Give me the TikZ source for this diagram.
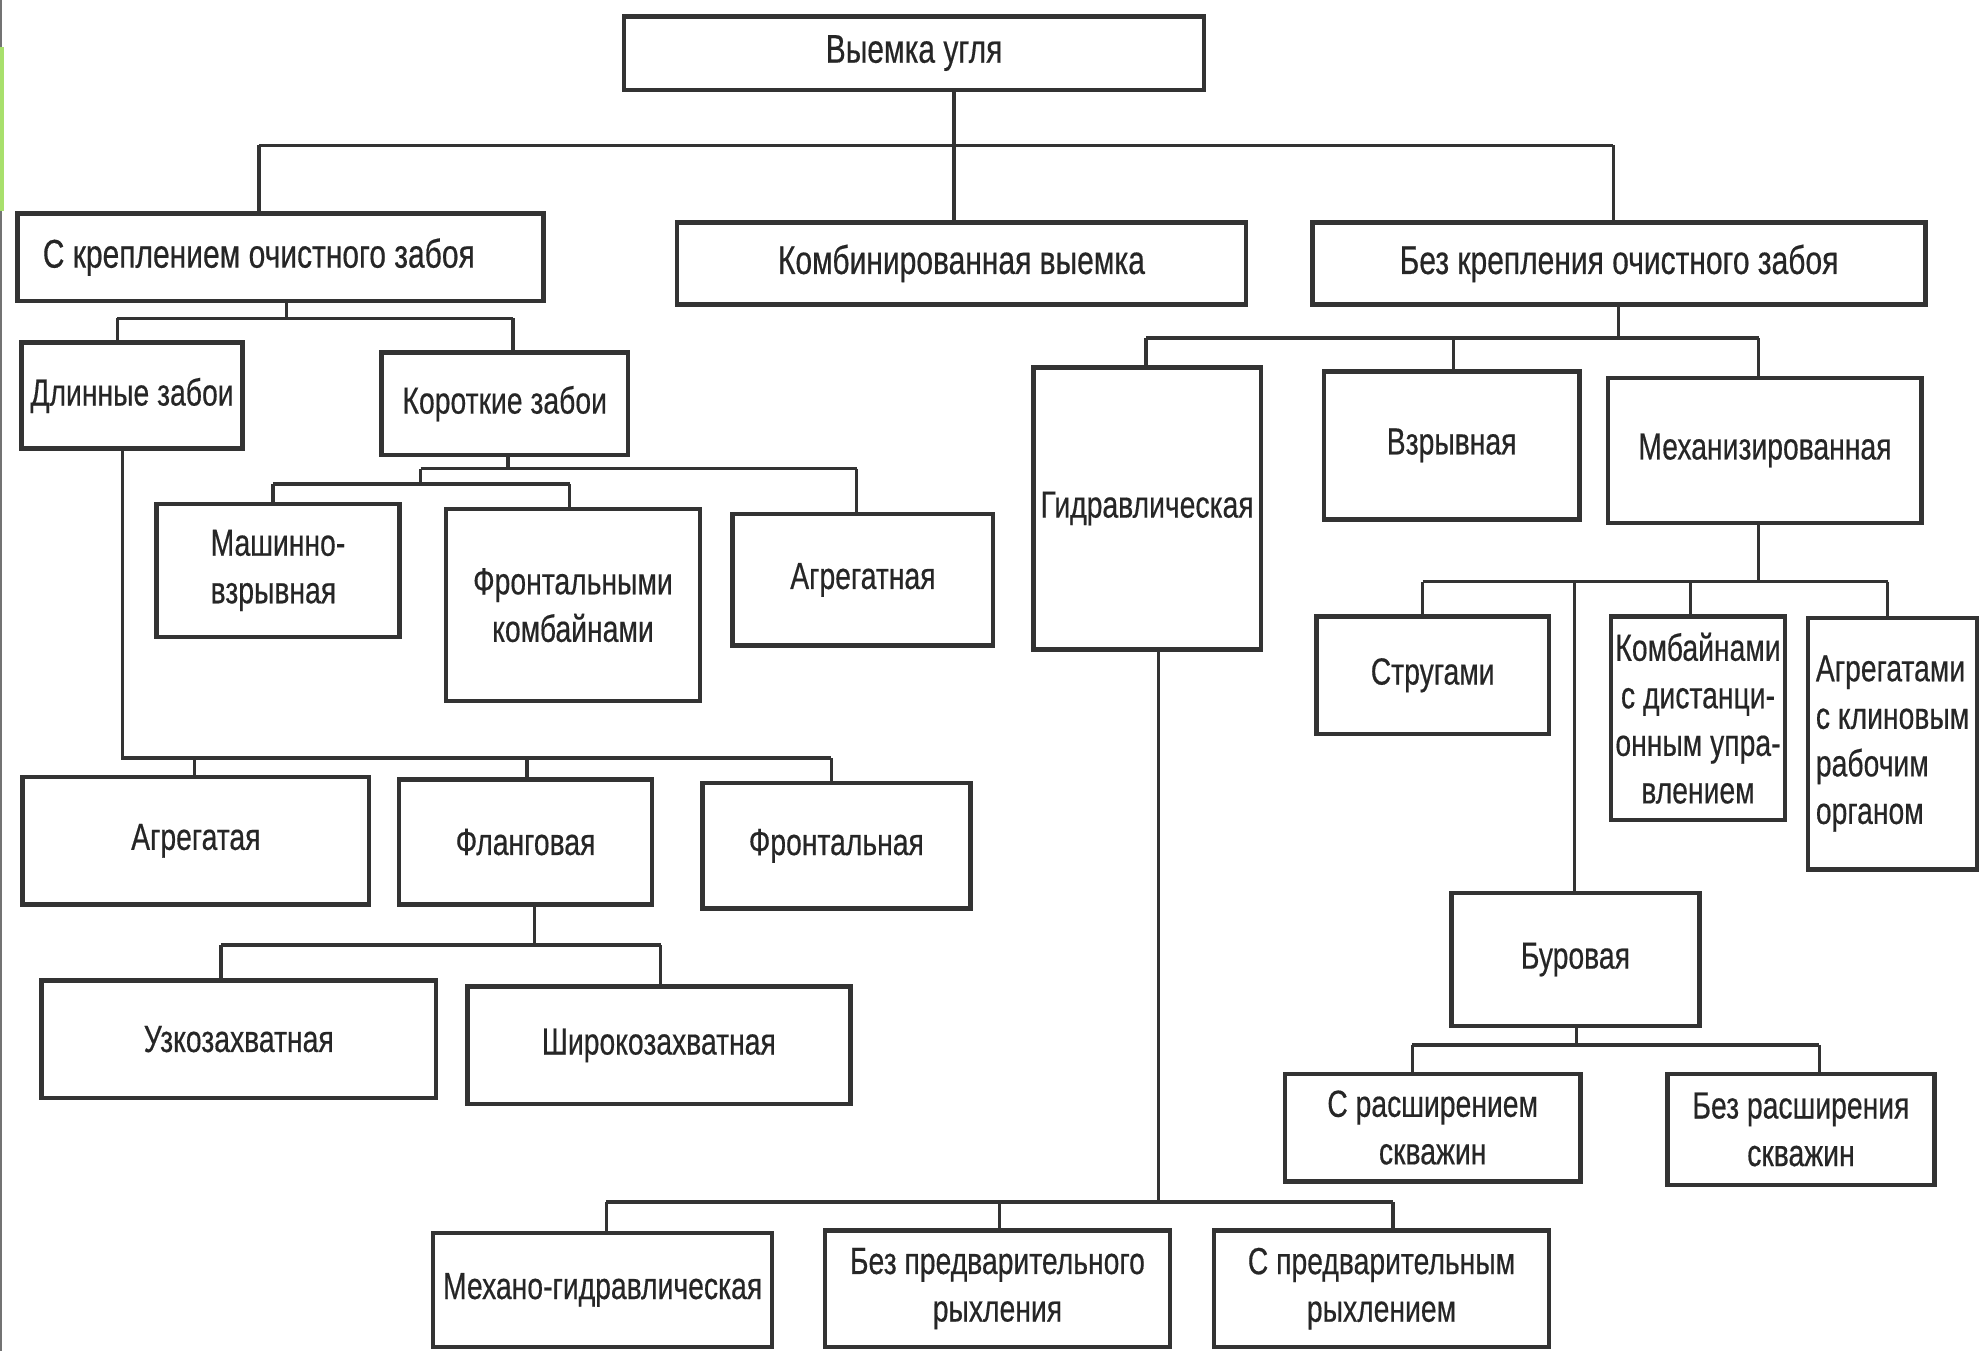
\documentclass[tikz,border=0pt]{standalone}
\usepackage{fontspec}
\setmainfont{Liberation Sans}[FakeStretch=0.75,FakeBold=0.4]
\definecolor{ln}{HTML}{333333}
\definecolor{tx}{HTML}{262626}
\definecolor{stripe}{RGB}{168,224,108}
\begin{document}
\begin{tikzpicture}[x=0.01cm,y=-0.01cm,
  box/.style={draw=ln,line width=1pt,fill=white,text=tx,inner sep=1pt,
    font=\fontsize{8.5}{10.7}\selectfont,align=center},
  big/.style={font=\fontsize{9}{11}\selectfont},
  con/.style={draw=ln,line width=0.75pt}]
\useasboundingbox (0,0) rectangle (1568,1069);
% left edge artefacts of the source slide
\fill[black!55] (0,0) rectangle (1.5,1069);
\fill[stripe] (0,37) rectangle (3,167);

% ---------- nodes ----------
\node[box,big,minimum width=4.59cm,minimum height=0.58cm] (top) at (723.5,42) {Выемка угля};
\node[box,big,minimum width=4.16cm,minimum height=0.69cm,text width=3.76cm,inner xsep=0.2cm,align=flush left] (krep) at (222,203.5) {С креплением очистного забоя};
\node[box,big,minimum width=4.50cm,minimum height=0.65cm] (komb) at (761,208.5) {Комбинированная выемка};
\node[box,big,minimum width=4.85cm,minimum height=0.65cm] (bez) at (1281.5,208.5) {Без крепления очистного забоя};

\node[box,minimum width=1.75cm,minimum height=0.84cm] (dlin) at (104.5,313) {Длинные забои};
\node[box,minimum width=1.95cm,minimum height=0.81cm] (korot) at (399.5,319.5) {Короткие забои};
\node[box,minimum width=1.92cm,minimum height=1.05cm,align=flush left] (mashin) at (220,451.5) {Машинно-\\взрывная};
\node[box,minimum width=2.01cm,minimum height=1.52cm] (front) at (453.5,479) {Фронтальными\\комбайнами};
\node[box,minimum width=2.06cm,minimum height=1.04cm] (agr1) at (683,459) {Агрегатная};

\node[box,minimum width=2.74cm,minimum height=1.01cm] (agrL) at (155,665.5) {Агрегатая};
\node[box,minimum width=2.00cm,minimum height=0.99cm] (flang) at (416,666.5) {Фланговая};
\node[box,minimum width=2.12cm,minimum height=0.99cm] (frontal) at (662,669.5) {Фронтальная};
\node[box,minimum width=3.12cm,minimum height=0.93cm] (uzko) at (189,822.5) {Узкозахватная};
\node[box,minimum width=3.03cm,minimum height=0.93cm] (shiro) at (521.5,827.5) {Широкозахватная};

\node[box,minimum width=1.80cm,minimum height=2.23cm] (gidr) at (908,402.5) {Гидравлическая};
\node[box,minimum width=2.02cm,minimum height=1.17cm] (vzryv) at (1149,352.5) {Взрывная};
\node[box,minimum width=2.48cm,minimum height=1.15cm] (mech) at (1397,356.5) {Механизированная};

\node[box,minimum width=1.84cm,minimum height=0.93cm] (strug) at (1134,534.5) {Стругами};
\node[box,minimum width=1.38cm,minimum height=1.61cm] (kombD) at (1344,568.5) {Комбайнами\\с дистанци-\\онным упра-\\влением};
\node[box,minimum width=1.34cm,minimum height=1.99cm,align=flush left] (agrK) at (1498,588.5) {Агрегатами\\с клиновым\\рабочим\\органом};
\node[box,minimum width=1.96cm,minimum height=1.05cm] (bur) at (1247,759.5) {Буровая};
\node[box,minimum width=2.34cm,minimum height=0.85cm] (srasch) at (1134,892.5) {С расширением\\скважин};
\node[box,minimum width=2.11cm,minimum height=0.88cm] (bezrasch) at (1425.5,894) {Без расширения\\скважин};

\node[box,minimum width=2.68cm,minimum height=0.90cm] (mechg) at (477,1021) {Механо-гидравлическая};
\node[box,minimum width=2.73cm,minimum height=0.92cm] (bezpred) at (789.5,1020) {Без предварительного\\рыхления};
\node[box,minimum width=2.65cm,minimum height=0.92cm] (spred) at (1093.5,1020) {С предварительным\\рыхлением};

% ---------- connectors ----------
% Выемка угля
\coordinate (a1) at (205,115); \coordinate (a2) at (755,115); \coordinate (a3) at (1277,115);
\draw[con] (a1) -- (a3);
\draw[con] (a2 |- top.south) -- (a2 |- komb.north);
\draw[con] (a1) -- (a1 |- krep.north);
\draw[con] (a3) -- (a3 |- bez.north);

% С креплением очистного забоя
\coordinate (b0) at (227,252); \coordinate (b1) at (93,252); \coordinate (b2) at (406,252);
\draw[con] (b0 |- krep.south) -- (b0);
\draw[con] (b1) -- (b2);
\draw[con] (b1) -- (b1 |- dlin.north);
\draw[con] (b2) -- (b2 |- korot.north);

% Короткие забои
\coordinate (c0) at (402,371); \coordinate (c1) at (333,371); \coordinate (c2) at (678,371);
\coordinate (c3) at (333,383); \coordinate (c4) at (216,383); \coordinate (c5) at (451,383);
\draw[con] (c0 |- korot.south) -- (c0);
\draw[con] (c1) -- (c2);
\draw[con] (c2) -- (c2 |- agr1.north);
\draw[con] (c1) -- (c3);
\draw[con] (c4) -- (c5);
\draw[con] (c4) -- (c4 |- mashin.north);
\draw[con] (c5) -- (c5 |- front.north);

% Длинные забои
\coordinate (d0) at (97,600); \coordinate (d1) at (154,600); \coordinate (d2) at (417,600); \coordinate (d3) at (658,600);
\draw[con] (d0 |- dlin.south) -- (d0) -- (d3);
\draw[con] (d1) -- (d1 |- agrL.north);
\draw[con] (d2) -- (d2 |- flang.north);
\draw[con] (d3) -- (d3 |- frontal.north);

% Фланговая
\coordinate (e0) at (423,748); \coordinate (e1) at (175,748); \coordinate (e2) at (523,748);
\draw[con] (e0 |- flang.south) -- (e0);
\draw[con] (e1) -- (e2);
\draw[con] (e1) -- (e1 |- uzko.north);
\draw[con] (e2) -- (e2 |- shiro.north);

% Без крепления очистного забоя
\coordinate (f0) at (1281,267.5); \coordinate (f1) at (907,267.5); \coordinate (f2) at (1150.5,267.5); \coordinate (f3) at (1392,267.5);
\draw[con] (f0 |- bez.south) -- (f0);
\draw[con] (f1) -- (f3);
\draw[con] (f1) -- (f1 |- gidr.north);
\draw[con] (f2) -- (f2 |- vzryv.north);
\draw[con] (f3) -- (f3 |- mech.north);

% Механизированная
\coordinate (g0) at (1392,460.5); \coordinate (g1) at (1126,460.5); \coordinate (g2) at (1246,460.5);
\coordinate (g3) at (1338,460.5); \coordinate (g4) at (1494,460.5);
\draw[con] (g0 |- mech.south) -- (g0);
\draw[con] (g1) -- (g4);
\draw[con] (g1) -- (g1 |- strug.north);
\draw[con] (g2) -- (g2 |- bur.north);
\draw[con] (g3) -- (g3 |- kombD.north);
\draw[con] (g4) -- (g4 |- agrK.north);

% Буровая
\coordinate (h0) at (1248,827); \coordinate (h1) at (1118,827); \coordinate (h2) at (1440,827);
\draw[con] (h0 |- bur.south) -- (h0);
\draw[con] (h1) -- (h2);
\draw[con] (h1) -- (h1 |- srasch.north);
\draw[con] (h2) -- (h2 |- bezrasch.north);

% Гидравлическая
\coordinate (i0) at (917,951.5); \coordinate (i1) at (480,951.5); \coordinate (i2) at (791,951.5); \coordinate (i3) at (1102.5,951.5);
\draw[con] (i0 |- gidr.south) -- (i0);
\draw[con] (i1) -- (i3);
\draw[con] (i1) -- (i1 |- mechg.north);
\draw[con] (i2) -- (i2 |- bezpred.north);
\draw[con] (i3) -- (i3 |- spred.north);
\end{tikzpicture}
\end{document}
